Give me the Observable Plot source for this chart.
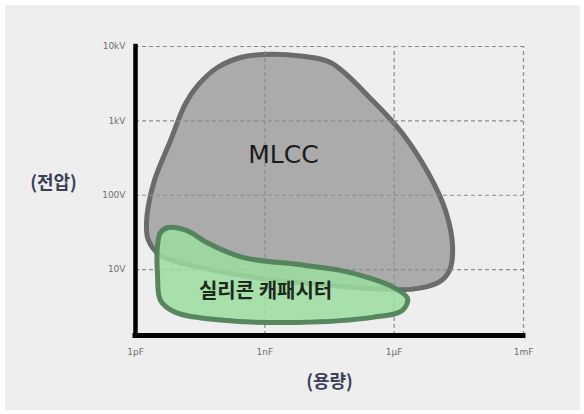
<!DOCTYPE html>
<html>
<head>
<meta charset="utf-8">
<script src="https://cdn.jsdelivr.net/npm/d3@7"></script>
<script src="https://cdn.jsdelivr.net/npm/@observablehq/plot@0.6"></script>
<style>
  html, body { margin: 0; padding: 0; background: #ffffff; }
  #chart svg { display: block; background: #eeeeee; clip-path: inset(5px 4px 4px 5px); }
</style>
</head>
<body>
<div id="chart"></div>
<script>
// Capacitance in pF, voltage in V
const capTicks = [1, 1e3, 1e6, 1e9];
const capLabels = ["1pF", "1nF", "1µF", "1mF"];
const voltTicks = [10, 100, 1000, 10000];
const voltLabels = ["10V", "100V", "1kV", "10kV"];

// MLCC region outline (capacitance pF, voltage V)
const mlccCap  = [931, 6720, 33400, 314800, 1.56e6, 6.26e6, 1.55e7, 2.26e7, 1.92e7, 1.07e7, 2.39e6, 2.83e5, 33400, 794, 32.2, 3.8, 2.0, 1.8, 2.62, 6.49, 14.5, 28.5, 79.8, 273];
const mlccVolt = [7800, 7450, 6090, 1880, 677, 196, 62.5, 21.1, 9.75, 6.73, 5.42, 5.59, 6.13, 7.62, 10.7, 15.5, 24.7, 43.1, 144, 545, 1713, 3050, 5220, 7120];

// Silicon capacitor region outline
const siCap  = [5.83, 15.2, 49.4, 303, 6040, 56900, 241000, 966000, 2.04e6, 1.56e6, 315000, 6040, 110, 8.47, 3.8, 3.24, 3.24, 3.8];
const siVolt = [36.9, 33.6, 22.5, 14.6, 11.7, 9.75, 7.85, 5.77, 4.10, 2.83, 2.28, 1.95, 2.08, 2.66, 3.85, 8.36, 21.1, 31.6];

const regionLabels = [
  {name: "MLCC", cap: 2710, volt: 343},
  {name: "실리콘 캐패시터", cap: 1040, volt: 5.0}
];

const mlcc = mlccCap.map((c, i) => ({cap: c, volt: mlccVolt[i]}));
const si = siCap.map((c, i) => ({cap: c, volt: siVolt[i]}));

const yMin = 1.3;

const chart = Plot.plot({
  width: 584,
  height: 414,
  marginLeft: 135,
  marginRight: 61,
  marginTop: 46,
  marginBottom: 79,
  style: {background: "#eeeeee"},
  x: {type: "log", domain: [1, 1e9]},
  y: {type: "log", domain: [yMin, 10000]},
  marks: [
    // MLCC blob
    Plot.line(mlcc, {x: "cap", y: "volt", curve: "catmull-rom-closed",
      fill: "#ababab", stroke: "#6b6b6b", strokeWidth: 5}),
    // dashed grid
    Plot.ruleY(voltTicks, {x1: 1, x2: 1e9, stroke: "#8c8c8c", strokeWidth: 1.2, strokeDasharray: "4,3"}),
    Plot.ruleX(capTicks.slice(1), {y1: yMin, y2: 10000, stroke: "#8c8c8c", strokeWidth: 1.2, strokeDasharray: "4,3"}),
    // Silicon capacitor blob
    Plot.line(si, {x: "cap", y: "volt", curve: "catmull-rom-closed",
      fill: "#9cdd9f", fillOpacity: 0.86, stroke: "#50815a", strokeOpacity: 0.95, strokeWidth: 5}),
    // axis lines
    Plot.ruleX([1], {stroke: "#000", strokeWidth: 4.5, strokeLinecap: "square"}),
    Plot.ruleY([yMin], {stroke: "#000", strokeWidth: 5, strokeLinecap: "square"}),
    // tick labels
    Plot.axisX(capTicks, {tickSize: 0, tickPadding: 13, fontSize: 9, color: "#6f6f6f",
      fontFamily: "DejaVu Sans", label: null,
      tickFormat: d => capLabels[capTicks.indexOf(d)]}),
    Plot.axisY(voltTicks, {tickSize: 0, tickPadding: 10, fontSize: 9, color: "#6f6f6f",
      fontFamily: "DejaVu Sans", label: null,
      tickFormat: d => voltLabels[voltTicks.indexOf(d)]}),
    // region labels
    Plot.text(regionLabels.slice(0, 1), {x: "cap", y: "volt", text: "name",
      fontSize: 25, fontFamily: "DejaVu Sans", fill: "#1a1a1a"}),
    Plot.text(regionLabels.slice(1), {x: "cap", y: "volt", text: "name",
      fontSize: 20, fontWeight: "bold", fontFamily: "Noto Sans CJK KR", fill: "#1c2a1d"}),
    // axis titles
    Plot.text(["(전압)"], {frameAnchor: "left", textAnchor: "middle", dx: -82, dy: -8, fontSize: 18,
      fontWeight: "bold", fontFamily: "Noto Sans CJK KR", fill: "#3c3f5a"}),
    Plot.text(["(용량)"], {frameAnchor: "bottom", textAnchor: "middle", dy: 52, fontSize: 18,
      fontWeight: "bold", fontFamily: "Noto Sans CJK KR", fill: "#3c3f5a"})
  ]
});
document.getElementById("chart").appendChild(chart);
</script>
</body>
</html>
